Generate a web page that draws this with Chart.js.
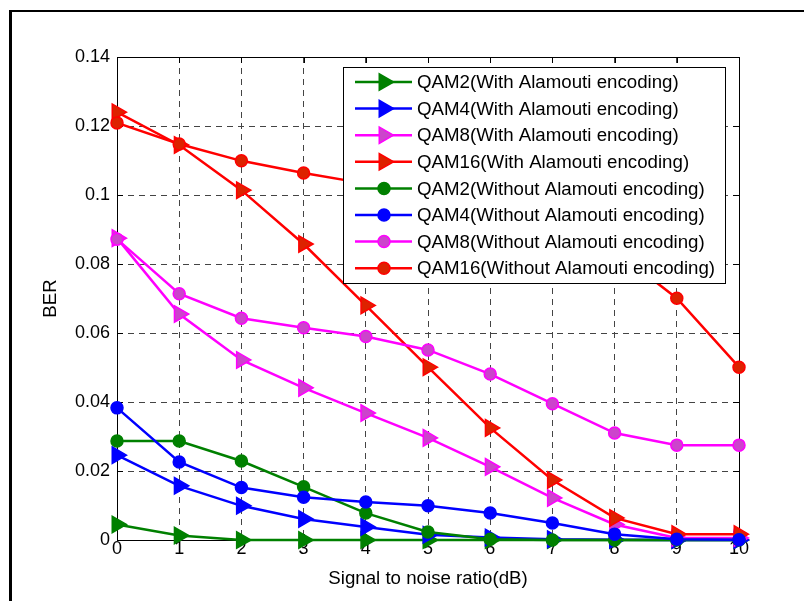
<!DOCTYPE html>
<html lang="en">
<head>
<meta charset="UTF-8">
<title>BER vs SNR</title>
<style>
    body {
        margin: 0;
        padding: 0;
        background-color: white;
        overflow: hidden;
        font-family: "Liberation Sans", Arial, sans-serif;
    }
    .frame {
        position: absolute;
        left: 9px;
        top: 10px;
        width: 900px;
        height: 700px;
        border-left: 3px solid black;
        border-top: 2px solid black;
    }
    #berChart {
        position: absolute;
        left: 0;
        top: 0;
    }
</style>
<script src="https://cdn.jsdelivr.net/npm/chart.js"></script>
</head>
<body>
<div class="frame"></div>
<canvas id="berChart" width="804" height="601"></canvas>

<script>
// x axis: signal to noise ratio (dB)
const snr = [0, 1, 2, 3, 4, 5, 6, 7, 8, 9, 10];
const yTickLabels = ['0', '0.02', '0.04', '0.06', '0.08', '0.1', '0.12', '0.14'];

// BER values
const qam2With     = [0.0045, 0.0013, 0, 0, 0, 0, 0, 0, 0, 0, 0];
const qam4With     = [0.0246, 0.0157, 0.0099, 0.0061, 0.0038, 0.0015, 0.0007, 0.0002, 0.0001, 0, 0];
const qam8With     = [0.0875, 0.0655, 0.0522, 0.0441, 0.0368, 0.0296, 0.0212, 0.0122, 0.0045, 0.0006, 0.0006];
const qam16With    = [0.124, 0.1145, 0.1014, 0.0858, 0.068, 0.0501, 0.0325, 0.0174, 0.0064, 0.0017, 0.0017];
const qam2Without  = [0.0287, 0.0287, 0.0229, 0.0154, 0.0078, 0.0023, 0.0002, 0, 0, 0, 0];
const qam4Without  = [0.0383, 0.0226, 0.0152, 0.0124, 0.011, 0.0099, 0.0078, 0.0049, 0.0017, 0.0002, 0.0001];
const qam8Without  = [0.0872, 0.0714, 0.0643, 0.0615, 0.059, 0.0551, 0.0481, 0.0395, 0.031, 0.0275, 0.0275];
const qam16Without = [0.1209, 0.1148, 0.1099, 0.1064, 0.1033, 0.1, 0.096, 0.091, 0.084, 0.0701, 0.0501];

const seriesLabels = [
    'QAM2(With Alamouti encoding)',
    'QAM4(With Alamouti encoding)',
    'QAM8(With Alamouti encoding)',
    'QAM16(With Alamouti encoding)',
    'QAM2(Without Alamouti encoding)',
    'QAM4(Without Alamouti encoding)',
    'QAM8(Without Alamouti encoding)',
    'QAM16(Without Alamouti encoding)'
];
const seriesValues = [qam2With, qam4With, qam8With, qam16With, qam2Without, qam4Without, qam8Without, qam16Without];
const lineColors = ['#008000', '#0000ff', '#ff00ff', '#ff0000'];
const fillColors = ['#008000', '#0000ff', '#cc44cc', '#dd2200'];

const FONT = '"Liberation Sans", Arial, sans-serif';

function makeDataset(i) {
    const c = i % 4;
    const isTriangle = i < 4;
    return {
        label: seriesLabels[i],
        data: snr.map((x, k) => ({ x: x, y: seriesValues[i][k] })),
        borderColor: lineColors[c],
        backgroundColor: fillColors[c],
        pointBackgroundColor: fillColors[c],
        pointBorderColor: lineColors[c],
        borderWidth: 2.5,
        pointBorderWidth: 1.5,
        pointStyle: isTriangle ? 'triangle' : 'circle',
        pointRotation: isTriangle ? 90 : 0,
        pointRadius: isTriangle ? 9.5 : 6,
        pointHoverRadius: isTriangle ? 9.5 : 6,
        tension: 0,
        clip: false,
        order: 8 - i
    };
}

// plot box + inward ticks, like MATLAB axes
const axesBox = {
    id: 'axesBox',
    beforeDatasetsDraw(chart) {
        const { ctx, chartArea: a, scales } = chart;
        ctx.save();
        ctx.strokeStyle = 'black';
        ctx.lineWidth = 1;
        ctx.strokeRect(a.left + 0.5, a.top + 0.5, a.right - a.left, a.bottom - a.top);
        ctx.beginPath();
        snr.forEach(v => {
            const px = Math.round(scales.x.getPixelForValue(v)) + 0.5;
            ctx.moveTo(px, a.bottom); ctx.lineTo(px, a.bottom - 6);
            ctx.moveTo(px, a.top); ctx.lineTo(px, a.top + 6);
        });
        yTickLabels.forEach(t => {
            const py = Math.round(scales.y.getPixelForValue(parseFloat(t))) + 0.5;
            ctx.moveTo(a.left, py); ctx.lineTo(a.left + 6, py);
            ctx.moveTo(a.right, py); ctx.lineTo(a.right - 6, py);
        });
        ctx.stroke();
        ctx.restore();
    }
};

// legend box drawn inside the plot, top right
const insideLegend = {
    id: 'insideLegend',
    afterDraw(chart) {
        const ctx = chart.ctx;
        const bx = 343, by = 67, bw = 382, bh = 216;
        ctx.save();
        ctx.fillStyle = 'white';
        ctx.fillRect(bx, by, bw, bh);
        ctx.strokeStyle = 'black';
        ctx.lineWidth = 1;
        ctx.strokeRect(bx + 0.5, by + 0.5, bw, bh);
        ctx.font = '18.7px ' + FONT;
        ctx.textBaseline = 'middle';
        chart.data.datasets.forEach((ds, i) => {
            const y = 82 + i * 26.6;
            ctx.strokeStyle = ds.borderColor;
            ctx.lineWidth = 2.5;
            ctx.beginPath();
            ctx.moveTo(355, y);
            ctx.lineTo(412, y);
            ctx.stroke();
            ctx.fillStyle = ds.pointBackgroundColor;
            ctx.strokeStyle = ds.pointBorderColor;
            ctx.lineWidth = 1.5;
            ctx.beginPath();
            if (ds.pointStyle === 'triangle') {
                const r = ds.pointRadius;
                for (let k = 0; k < 3; k++) {
                    const ang = Math.PI / 2 + k * 2 * Math.PI / 3;
                    const px = 384 + Math.sin(ang) * r;
                    const py = y - Math.cos(ang) * r;
                    if (k === 0) ctx.moveTo(px, py); else ctx.lineTo(px, py);
                }
                ctx.closePath();
            } else {
                ctx.arc(384, y, ds.pointRadius, 0, Math.PI * 2);
            }
            ctx.fill();
            ctx.stroke();
            ctx.fillStyle = 'black';
            ctx.fillText(ds.label, 417, y + 1);
        });
        ctx.restore();
    }
};

const ctx = document.getElementById('berChart').getContext('2d');
new Chart(ctx, {
    type: 'line',
    data: {
        datasets: seriesValues.map((v, i) => makeDataset(i))
    },
    options: {
        responsive: false,
        animation: false,
        events: [],
        layout: {
            padding: { left: 0, top: 57, right: 65, bottom: 0 }
        },
        plugins: {
            legend: { display: false },
            tooltip: { enabled: false }
        },
        scales: {
            x: {
                type: 'linear',
                min: 0,
                max: 10,
                afterFit: s => { s.height = 61; },
                ticks: {
                    stepSize: 1,
                    padding: 0,
                    color: 'black',
                    font: { family: FONT, size: 18, lineHeight: 1 },
                    callback: v => String(v)
                },
                grid: {
                    color: '#444',
                    lineWidth: 1,
                    drawTicks: false
                },
                border: { display: false, dash: [6, 5] },
                title: {
                    display: true,
                    text: 'Signal to noise ratio(dB)',
                    color: 'black',
                    font: { family: FONT, size: 18.7, lineHeight: 1 },
                    padding: { top: 0, bottom: 13 }
                }
            },
            y: {
                type: 'linear',
                min: 0,
                max: 0.14,
                afterFit: s => { s.width = 117; },
                ticks: {
                    stepSize: 0.02,
                    padding: 7,
                    color: 'black',
                    font: { family: FONT, size: 18, lineHeight: 1 },
                    callback: (v, i) => yTickLabels[i]
                },
                grid: {
                    color: '#444',
                    lineWidth: 1,
                    drawTicks: false
                },
                border: { display: false, dash: [6, 5] },
                title: {
                    display: true,
                    text: 'BER',
                    color: 'black',
                    font: { family: FONT, size: 18.7, lineHeight: 1 },
                    padding: { top: 42, bottom: 0 }
                }
            }
        }
    },
    plugins: [axesBox, insideLegend]
});
</script>
</body>
</html>
